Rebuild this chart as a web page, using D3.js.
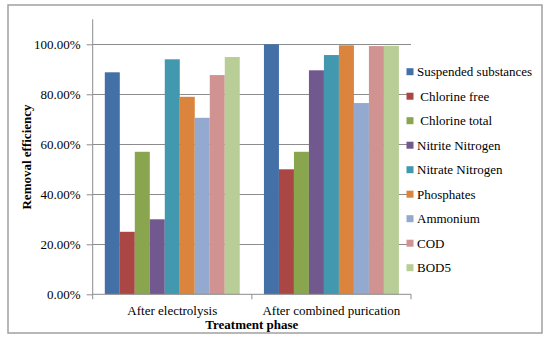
<!DOCTYPE html>
<html>
<head>
<meta charset="utf-8">
<script src="https://cdn.jsdelivr.net/npm/d3@7"></script>
<style>
  body { margin: 0; background: #fff; }
  svg text { font-family: "Liberation Serif", "Times New Roman", serif; fill: #000; }
</style>
</head>
<body>
<script>
// data
const phases = ["After electrolysis", "After combined purication"];
const series = ["Suspended substances", " Chlorine free", " Chlorine total", "Nitrite Nitrogen",
  "Nitrate Nitrogen", "Phosphates", "Ammonium", "COD", "BOD5"];
const afterElectrolysis = [0.888, 0.25, 0.57, 0.30, 0.94, 0.79, 0.706, 0.877, 0.949];
const afterCombined = [1.0, 0.50, 0.57, 0.896, 0.957, 0.996, 0.765, 0.993, 0.994];
const yTicks = [0, 0.2, 0.4, 0.6, 0.8, 1.0];
const colors = ["#4470A8", "#AA4643", "#89A54E", "#71588F", "#4198AF",
  "#DB843D", "#93A9CF", "#D19392", "#B9CD96"];

const W = 550, H = 341;
const values = [afterElectrolysis, afterCombined];
const FS = "13px";

const svg = d3.select("body").append("svg")
    .attr("width", W)
    .attr("height", H);

// outer frame
svg.append("rect")
    .attr("x", 8).attr("y", 5)
    .attr("width", 534).attr("height", 328)
    .attr("fill", "#fff")
    .attr("stroke", "#a0a0a0")
    .attr("stroke-width", 1.5);

const x0 = d3.scaleBand()
    .domain(phases)
    .range([92.7, 411])
    .paddingInner(0.152)
    .paddingOuter(0.076);

const x1 = d3.scaleBand()
    .domain(series)
    .range([0, x0.bandwidth()]);

const y = d3.scaleLinear()
    .domain([0, 1.1])
    .range([294.3, 19.3]);

// gridlines
svg.append("g")
    .selectAll("line")
    .data(yTicks.filter(d => d > 0))
    .join("line")
    .attr("x1", x0.range()[0]).attr("x2", x0.range()[1])
    .attr("y1", d => Math.round(y(d)) + 0.5).attr("y2", d => Math.round(y(d)) + 0.5)
    .attr("stroke", "#8c8c8c");

// bars
svg.append("g")
    .selectAll("g")
    .data(phases)
    .join("g")
    .attr("transform", d => `translate(${x0(d)},0)`)
    .selectAll("rect")
    .data((d, i) => series.map((s, j) => ({ s, v: values[i][j], c: colors[j] })))
    .join("rect")
    .attr("x", d => x1(d.s))
    .attr("width", x1.bandwidth())
    .attr("y", d => y(d.v))
    .attr("height", d => y(0) - y(d.v))
    .attr("fill", d => d.c);

// y axis
const yAxis = svg.append("g")
    .attr("transform", `translate(${x0.range()[0]},0)`)
    .call(d3.axisLeft(y).tickValues(yTicks).tickFormat(d3.format(".2%")).tickSize(6).tickPadding(6))
    .attr("font-family", null)
    .attr("font-size", null);
yAxis.select(".domain").attr("d", `M0,${y.range()[1]}V${y(0)}`);
yAxis.selectAll(".domain, .tick line").attr("stroke", "#8c8c8c");
yAxis.selectAll("text").style("font-size", FS);

// x axis: baseline with ticks at category boundaries
const boundaries = [x0.range()[0], (x0(phases[0]) + x0.bandwidth() + x0(phases[1])) / 2, x0.range()[1]];
svg.append("line")
    .attr("x1", x0.range()[0]).attr("x2", x0.range()[1])
    .attr("y1", y(0)).attr("y2", y(0))
    .attr("stroke", "#8c8c8c");
svg.append("g")
    .selectAll("line")
    .data(boundaries)
    .join("line")
    .attr("x1", d => d).attr("x2", d => d)
    .attr("y1", y(0)).attr("y2", y(0) + 5)
    .attr("stroke", "#8c8c8c");

svg.append("g")
    .selectAll("text")
    .data(phases)
    .join("text")
    .attr("x", d => x0(d) + x0.bandwidth() / 2)
    .attr("y", 315)
    .attr("text-anchor", "middle")
    .style("font-size", FS)
    .text(d => d);

// axis titles
svg.append("text")
    .attr("x", (x0.range()[0] + x0.range()[1]) / 2)
    .attr("y", 329)
    .attr("text-anchor", "middle")
    .style("font-size", FS)
    .style("font-weight", "bold")
    .text("Treatment phase");

svg.append("text")
    .attr("transform", `translate(31,157) rotate(-90)`)
    .attr("text-anchor", "middle")
    .style("font-size", FS)
    .style("font-weight", "bold")
    .text("Removal efficiency");

// legend
const legend = svg.append("g")
    .selectAll("g")
    .data(series)
    .join("g")
    .attr("transform", (d, i) => `translate(406.5,${71.7 + i * 24.5})`);
legend.append("rect")
    .attr("x", 0).attr("y", -3.5)
    .attr("width", 7).attr("height", 7)
    .attr("fill", (d, i) => colors[i]);
legend.append("text")
    .attr("x", 10.5)
    .attr("dy", "0.35em")
    .style("font-size", FS)
    .style("white-space", "pre")
    .text(d => d);
</script>
</body>
</html>
